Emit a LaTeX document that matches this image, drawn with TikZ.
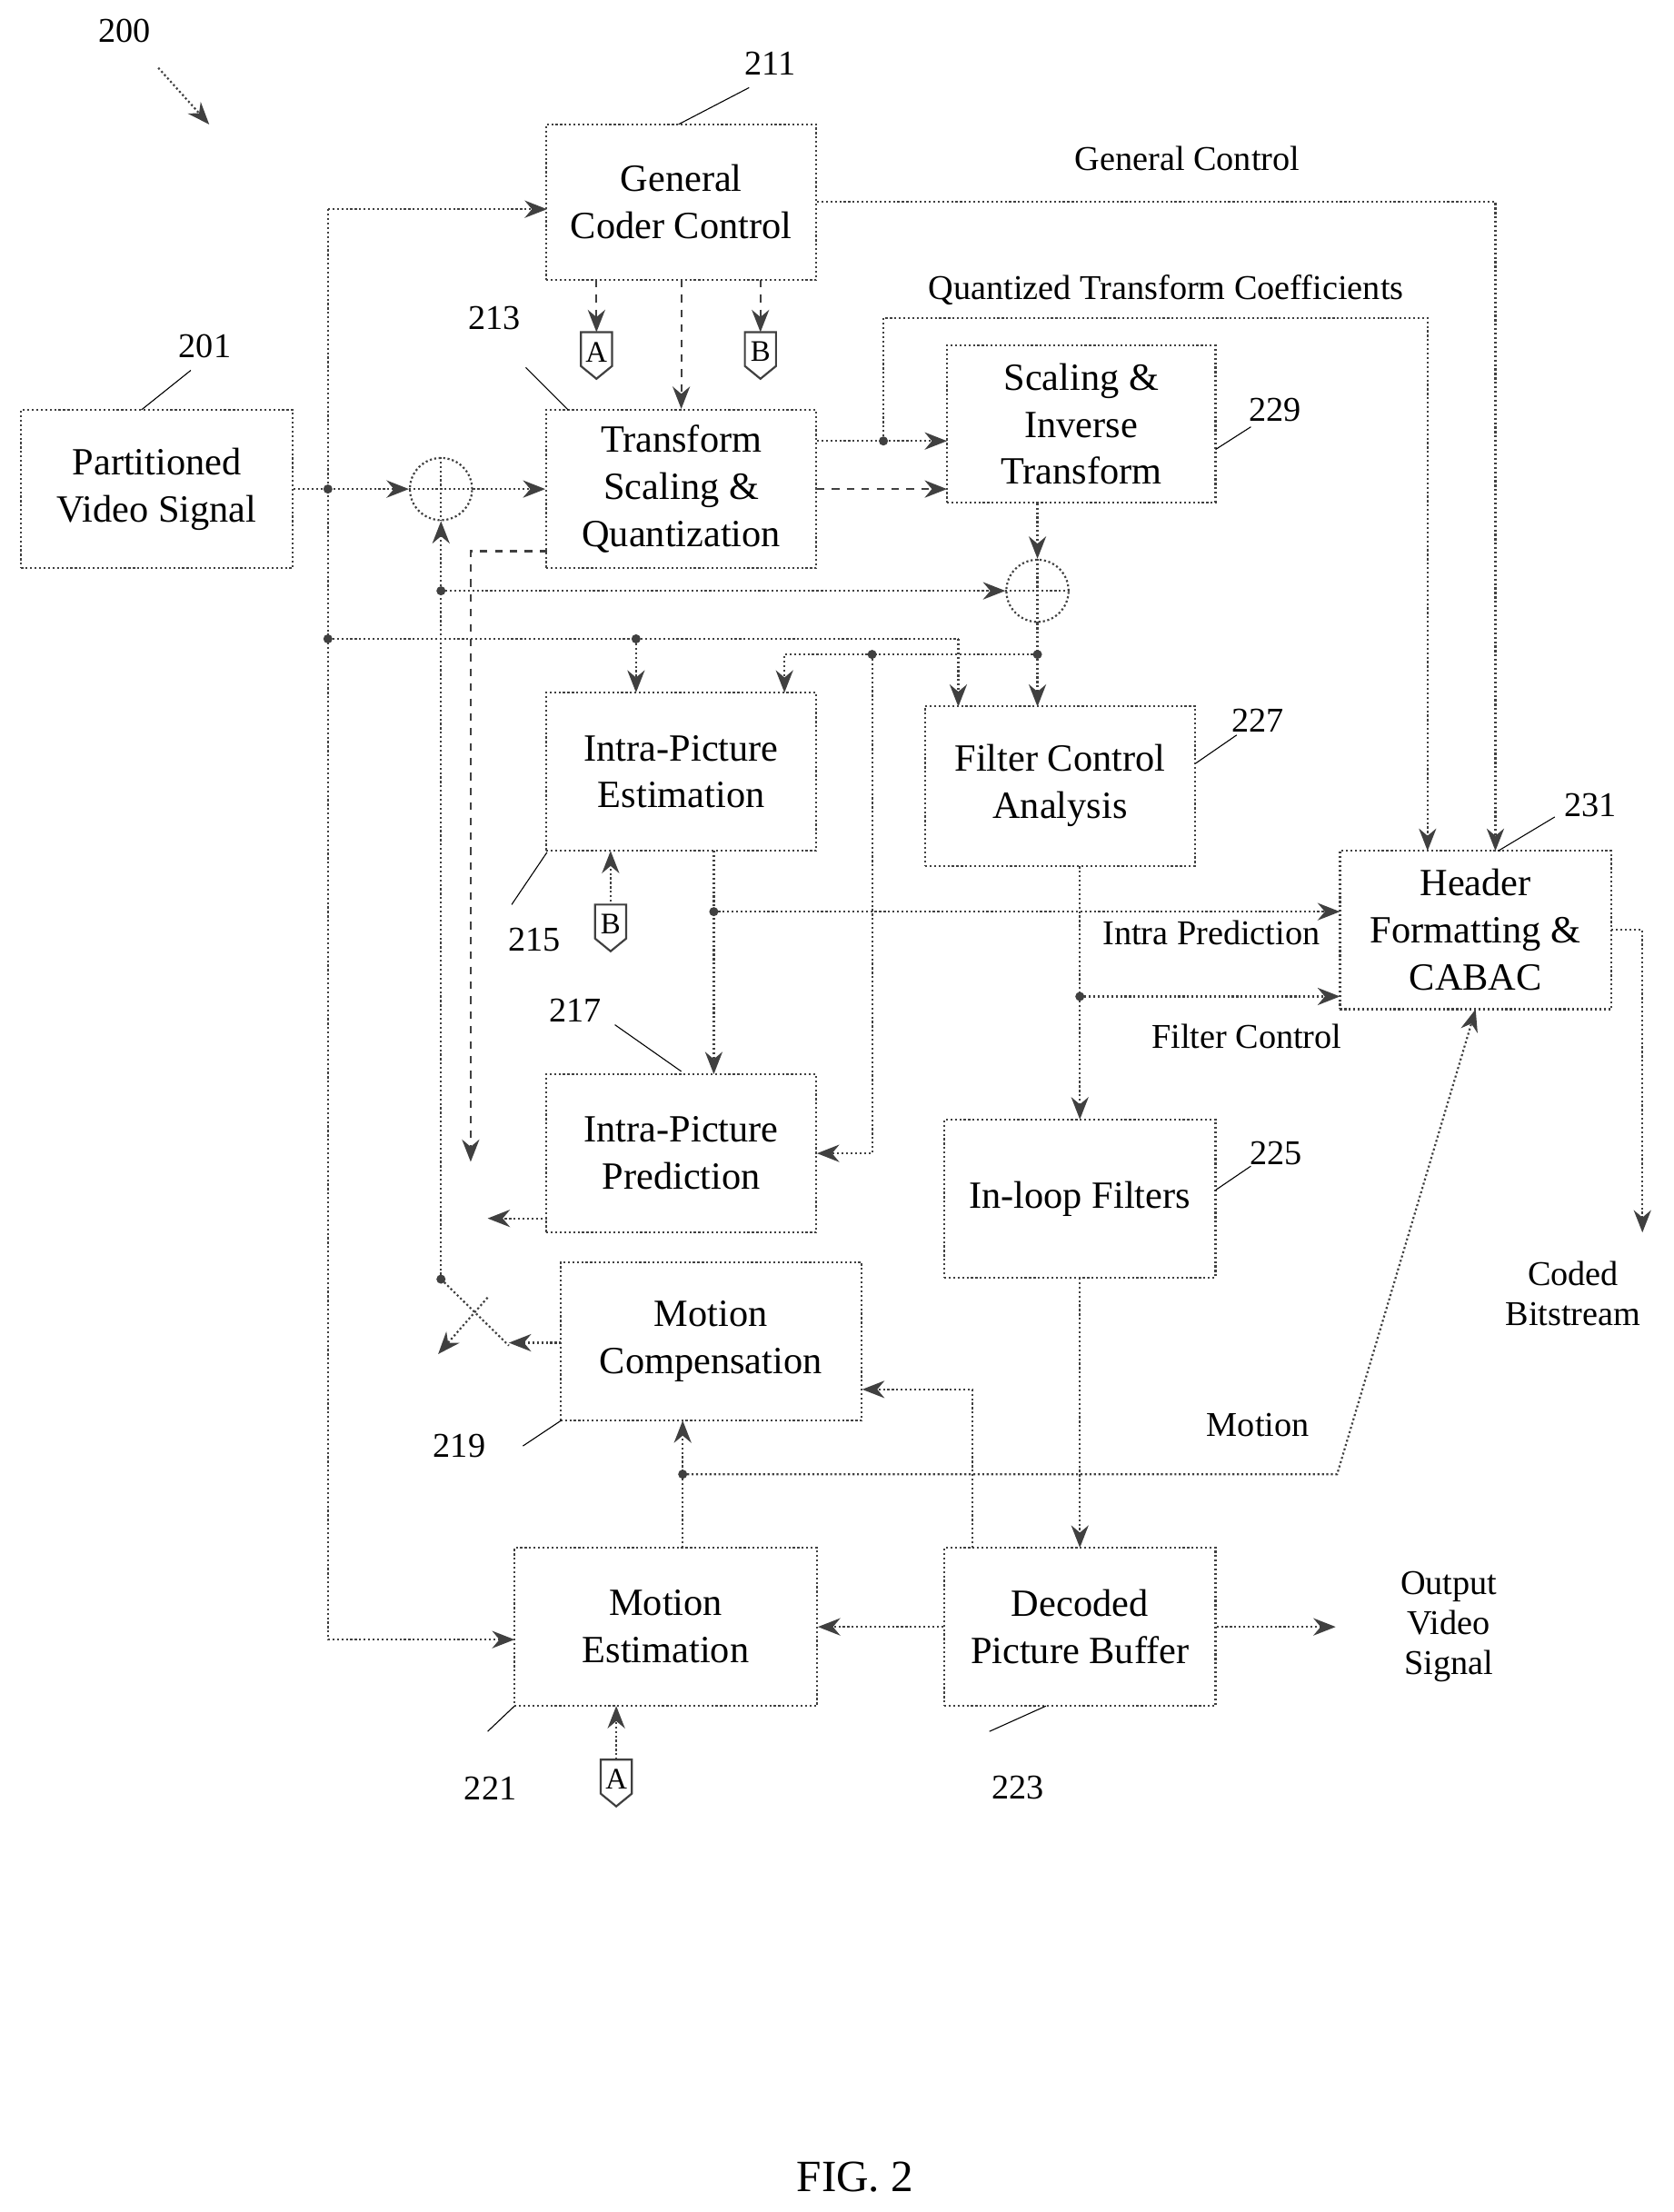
\documentclass[tikz,border=0pt]{standalone}
\usepackage{fontspec}
\setmainfont{Liberation Serif}
\usetikzlibrary{arrows.meta}
\begin{document}
\begin{tikzpicture}[x=0.02cm,y=-0.02cm,
 every node/.style={font=\fontsize{15.5}{19}\selectfont},
 box/.style={draw=black!75,densely dotted,thick,align=center,inner sep=0pt},
 ln/.style={draw=black!75,densely dotted,thick},
 dl/.style={draw=black!75,dashed,thick},
 ar/.style={-{Stealth[length=9pt,width=7pt]}},
 lab/.style={font=\fontsize{14}{16}\selectfont},
 dot/.style={circle,fill=black!75,inner sep=1.3pt},
 tag/.style={draw=black!75,thick}]
\useasboundingbox (0,0) rectangle (1184,1565);
% boxes
\node[box,minimum width=3.82cm,minimum height=2.2cm] (gcc) at (482,143) {General\\Coder Control};
\node[box,minimum width=3.84cm,minimum height=2.24cm] (pvs) at (111,346) {Partitioned\\Video Signal};
\node[box,minimum width=3.82cm,minimum height=2.24cm] (tsq) at (482,346) {Transform\\Scaling \&\\Quantization};
\node[box,minimum width=3.8cm,minimum height=2.22cm] (sit) at (765,300) {Scaling \&\\Inverse\\Transform};
\node[box,minimum width=3.82cm,minimum height=2.24cm] (ipe) at (482,546) {Intra-Picture\\Estimation};
\node[box,minimum width=3.82cm,minimum height=2.26cm] (fca) at (750,556) {Filter Control\\Analysis};
\node[box,minimum width=3.84cm,minimum height=2.24cm] (hdr) at (1044,658) {Header\\Formatting \&\\CABAC};
\node[box,minimum width=3.82cm,minimum height=2.24cm] (ipp) at (482,816) {Intra-Picture\\Prediction};
\node[box,minimum width=3.84cm,minimum height=2.24cm] (ilf) at (764,848) {In-loop Filters};
\node[box,minimum width=4.26cm,minimum height=2.24cm] (mc) at (503,949) {Motion\\Compensation};
\node[box,minimum width=4.28cm,minimum height=2.24cm] (me) at (471,1151) {Motion\\Estimation};
\node[box,minimum width=3.84cm,minimum height=2.24cm] (dpb) at (764,1151) {Decoded\\Picture Buffer};
% sums
\node[circle,ln,minimum size=0.88cm,inner sep=0pt] (s1) at (312,346) {};
\draw[ln] (s1.north)--(s1.south) (s1.west)--(s1.east);
\node[circle,ln,minimum size=0.88cm,inner sep=0pt] (s2) at (734,418) {};
\draw[ln] (s2.north)--(s2.south) (s2.west)--(s2.east);
% tags
\foreach \n/\x/\y/\t in {tA1/422/235/A,tB1/538/235/B,tB2/432/640/B,tA2/436/1245/A}{
 \draw[tag] (\x-11,\y)--(\x+11,\y)--(\x+11,\y+24)--(\x,\y+33)--(\x-11,\y+24)--cycle;
 \node[inner sep=0pt,font=\fontsize{12}{14}\selectfont] (\n) at (\x,\y+14) {\t};
 \coordinate (\n t) at (\x,\y);}
% coordinates
\coordinate (p1) at (232,346);
\coordinate (c148) at (232,148);
\coordinate (c1160) at (232,1160);
% connections
\draw[ln,ar] (pvs.east)--(s1.west);
\node[dot] at (p1) {};
\draw[ln,ar] (s1.east)--(tsq.west);
\draw[ln,ar] (c148)--(c1160)--(364,1160);
\draw[ln,ar] (c148)--(387,148);
\node[dot] at (232,452) {};
\draw[ln] (232,452)--(678,452);
\node[dot] at (450,452) {};
\draw[ln,ar] (450,452)--(450,490);
\draw[ln,ar] (678,452)--(678,500);
\draw[ln,ar] (578,143)--(1058,143)--(1058,602);
\node[lab] at (840,112) {General Control};
\draw[dl,ar] (422,198)--(tA1t);
\draw[dl,ar] (482,198)--(tsq.north);
\draw[dl,ar] (538,198)--(tB1t);
\draw[ln,ar] (578,312)--(670,312);
\node[dot] at (625,312) {};
\draw[ln,ar] (625,312)--(625,225)--(1010,225)--(1010,602);
\node[lab] at (825,205) {Quantized Transform Coefficients};
\draw[dl,ar] (578,346)--(670,346);
\draw[dl,ar] (387,390)--(333,390)--(333,822);
\draw[ln,ar] (734,356)--(s2.north);
\node[dot] at (312,418) {};
\draw[ln,ar] (312,418)--(s2.west);
\draw[ln,ar] (312,905)--(s1.south);
\draw[ln,ar] (s2.south)--(734,500);
\node[dot] at (734,463) {};
\draw[ln,ar] (734,463)--(555,463)--(555,490);
\node[dot] at (617,463) {};
\draw[ln,ar] (617,463)--(617,816)--(578,816);
\draw[ln,ar] (505,602)--(505,760);
\node[dot] at (505,645) {};
\draw[ln,ar] (505,645)--(948,645);
\node[lab] at (857,660) {Intra Prediction};
\draw[ln,ar] (tB2)++(0,-16)--(432,602);
\draw[ln,ar] (764,613)--(764,792);
\node[dot] at (764,705) {};
\draw[ln,ar] (764,705)--(948,705);
\node[lab] at (882,733) {Filter Control};
\draw[ln,ar] (387,862)--(345,862);
\draw[ln,ar] (397,950)--(360,950);
\node[dot] at (312,905) {};
\draw[ln] (312,905)--(360,952);
\draw[ln,ar] (345,918)--(310,958);
\draw[ln,ar] (764,904)--(764,1095);
\draw[ln,ar] (dpb.west)--(me.east);
\draw[ln,ar] (dpb.east)--(945,1151);
\node[lab,align=center] at (1025,1151) {Output\\Video\\Signal};
\draw[ln,ar] (688,1095)--(688,983)--(610,983);
\draw[ln,ar] (483,1095)--(483,1005);
\node[dot] at (483,1043) {};
\draw[ln,ar] (483,1043)--(946,1043)--(1044,714);
\node[lab] at (890,1008) {Motion};
\draw[ln,ar] (436,1245)--(436,1207);
\draw[ln,ar] (1140,658)--(1162,658)--(1162,872);
\node[lab,align=center] at (1113,915) {Coded\\Bitstream};
% reference numerals
\node[lab] at (88,22) {200};
\draw[ln,ar] (112,48)--(148,88);
\node[lab] at (545,45) {211}; \draw[thin] (480,88)--(530,62);
\node[lab] at (145,245) {201}; \draw[thin] (100,290)--(135,262);
\node[lab] at (350,225) {213}; \draw[thin] (372,260)--(402,290);
\node[lab] at (902,290) {229}; \draw[thin] (860,318)--(885,302);
\node[lab] at (890,510) {227}; \draw[thin] (846,540)--(875,520);
\node[lab] at (1125,570) {231}; \draw[thin] (1060,602)--(1100,578);
\node[lab] at (378,665) {215}; \draw[thin] (387,603)--(362,640);
\node[lab] at (407,715) {217}; \draw[thin] (435,725)--(482,758);
\node[lab] at (903,816) {225}; \draw[thin] (860,842)--(885,825);
\node[lab] at (325,1023) {219}; \draw[thin] (370,1023)--(397,1005);
\node[lab] at (347,1265) {221}; \draw[thin] (345,1225)--(364,1207);
\node[lab] at (720,1265) {223}; \draw[thin] (700,1225)--(740,1207);
\node[font=\fontsize{18}{20}\selectfont] at (605,1540) {FIG. 2};
\end{tikzpicture}
\end{document}
